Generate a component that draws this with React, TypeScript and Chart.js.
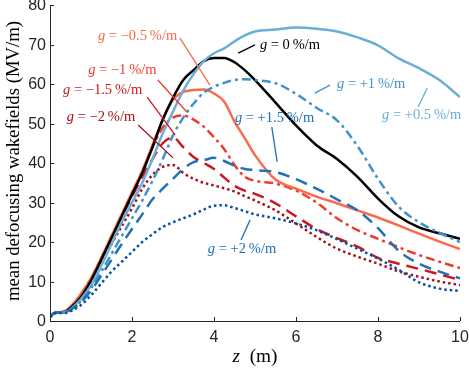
import React, { useEffect, useRef } from "react";
import { Chart, registerables } from "chart.js";

Chart.register(...registerables);

// propagation distance z (m)
const Z_M = [0, 0.1, 0.35, 0.5, 0.75, 1, 1.25, 1.5, 1.75, 2, 2.25, 2.5, 2.75, 3, 3.25, 3.5, 3.75, 4, 4.25, 4.5, 4.75, 5, 5.5, 6, 6.5, 7, 7.5, 8, 8.5, 9, 9.5, 10];

// mean defocusing wakefields (MV/m) for each gradient g
const W_0 = [1, 2, 2.3, 3.3, 6, 10.2, 15.5, 21, 26.5, 32, 37.5, 44, 51, 56.5, 61, 63.5, 65.8, 66.6, 66.6, 65.5, 63.5, 61, 55.3, 49.5, 44.5, 41, 36.5, 31, 26.5, 23.7, 22.2, 20.8];
const W_P05 = [1, 2, 2.2, 3, 5.5, 9, 14, 19.5, 25, 30, 35, 41, 47.5, 53, 58.3, 62.5, 65.8, 67.8, 69, 70.8, 72.3, 73.3, 73.8, 74.3, 74, 73.3, 71.8, 69.8, 66.5, 64, 61, 56.7];
const W_P1 = [1, 2, 2.2, 2.9, 5, 8.3, 12.5, 17, 21.5, 26, 30.5, 35.5, 41, 47, 51.5, 55, 57.8, 59.3, 60.3, 61, 61.2, 61, 60.2, 57.5, 54, 50.8, 44.3, 36, 29, 25, 22.3, 20];
const W_P15 = [1, 2, 2.2, 2.8, 4.7, 7.7, 11.5, 15.5, 19.5, 23.3, 27, 30.8, 33.5, 36, 38.5, 40.2, 40.7, 41.3, 40.5, 39.3, 38.5, 38.2, 37.7, 35.9, 33.5, 30.8, 28, 23.5, 17.8, 14.5, 12.5, 10.8];
const W_P2 = [1, 2, 2, 2.5, 4, 6.5, 9.5, 12.5, 15, 17.5, 20, 22, 23.8, 25, 26, 27, 28.2, 29.2, 29.3, 28.6, 27.8, 27, 26, 24.7, 23, 20.7, 18.3, 15.8, 13, 9.8, 8.2, 7.6];
const W_M05 = [1, 2, 2.4, 3.6, 6.8, 10.8, 16, 21.5, 27, 32.5, 38, 44.5, 51, 56, 58, 58.5, 58.6, 57.6, 55.5, 50.5, 46.3, 42, 35.8, 33.5, 31.5, 29.8, 28, 26.2, 24.2, 22.1, 20.1, 18.2];
const W_M1 = [1, 2, 2.4, 3.6, 6.8, 10.8, 16, 21.5, 27, 32.5, 38, 44, 49, 51.5, 52, 51, 49.2, 46.5, 43.5, 39.5, 36.5, 35.5, 34.8, 33, 30, 26, 23, 20.8, 18.7, 16.7, 15, 13.4];
const W_M15 = [1, 2, 2.4, 3.5, 6.5, 10.5, 15.5, 21, 26.5, 31.5, 36.5, 41, 45, 46.5, 44, 41.5, 40, 38.5, 36.3, 34.2, 33, 32.2, 29.8, 26.5, 23.3, 21, 18.8, 16, 14.5, 13.2, 11.8, 10.4];
const W_M2 = [1, 2, 2.3, 3.3, 6, 9.8, 14.5, 19.5, 24, 28.5, 33.5, 37, 39, 39.5, 37.5, 36, 35, 34.3, 33.6, 32.8, 31.6, 30.5, 28, 24.7, 21.3, 18.3, 16.3, 14.5, 12.6, 11.2, 10, 9.1];

const X_TICKS = [0, 2, 4, 6, 8, 10];
const Y_TICKS = [0, 10, 20, 30, 40, 50, 60, 70, 80];

const DOT = [2.5, 3];
const DASH = [12, 7];
const DASHDOT = [9, 4, 3, 4];

// listed top-most first
const SERIES = [
  { g: "+2", data: W_P2, color: "#08519c", dash: DOT },
  { g: "+1.5", data: W_P15, color: "#2171b5", dash: DASH },
  { g: "+1", data: W_P1, color: "#4292c6", dash: DASHDOT },
  { g: "+0.5", data: W_P05, color: "#6baed6", dash: [] as number[] },
  { g: "0", data: W_0, color: "#000000", dash: [] as number[] },
  { g: "-0.5", data: W_M05, color: "#fb6a4a", dash: [] as number[] },
  { g: "-1", data: W_M1, color: "#ef3b2c", dash: DASHDOT },
  { g: "-1.5", data: W_M15, color: "#cb181d", dash: DASH },
  { g: "-2", data: W_M2, color: "#a50f15", dash: DOT },
];

// text labels (data coordinates) with pointer lines
const LABELS = [
  { t: " = \u22120.5\u2009%/m", c: "#fb6a4a", tz: 1.17, tv: 72.2, z1: 3.17, v1: 71.6, z2: 3.9, v2: 59.7 },
  { t: " = \u22121\u2009%/m", c: "#ef3b2c", tz: 0.93, tv: 63.5, z1: 2.63, v1: 61, z2: 3.34, v2: 52.9 },
  { t: " = \u22121.5\u2009%/m", c: "#cb181d", tz: 0.32, tv: 58.5, z1: 2.37, v1: 56.7, z2: 3.05, v2: 47.1 },
  { t: " = \u22122\u2009%/m", c: "#a50f15", tz: 0.41, tv: 51.6, z1: 2.15, v1: 49.6, z2: 3.0, v2: 41.3 },
  { t: " = 0\u2009%/m", c: "#000000", tz: 5.12, tv: 69.9, z1: 4.59, v1: 67.8, z2: 5.0, v2: 69.9 },
  { t: " = +1\u2009%/m", c: "#4292c6", tz: 7.0, tv: 60, z1: 6.46, v1: 57.7, z2: 6.83, v2: 59.7 },
  { t: " = +1.5\u2009%/m", c: "#2171b5", tz: 4.51, tv: 51.4, z1: 5.41, v1: 49.1, z2: 5.54, v2: 40.3 },
  { t: " = +0.5\u2009%/m", c: "#6baed6", tz: 8.1, tv: 52.2, z1: 9.2, v1: 59, z2: 8.98, v2: 54.2 },
  { t: " = +2\u2009%/m", c: "#2171b5", tz: 3.85, tv: 18.2, z1: 4.88, v1: 25.6, z2: 4.66, v2: 20.5 },
];

const SERIF = '"Liberation Serif", "Times New Roman", serif';
const SANS = '"Liberation Sans", Arial, sans-serif';
const AXIS = "#262626";

export default function App() {
  const ref = useRef<HTMLCanvasElement>(null);

  useEffect(() => {
    const canvas = ref.current;
    if (!canvas) return;

    const deco = {
      id: "deco",
      afterDatasetsDraw(chart: any) {
        const ctx = chart.ctx as CanvasRenderingContext2D;
        const xs = chart.scales.x;
        const ys = chart.scales.y;
        const { left, right, top, bottom } = chart.chartArea;
        ctx.save();
        // axes
        ctx.strokeStyle = AXIS;
        ctx.lineWidth = 1;
        ctx.setLineDash([]);
        ctx.beginPath();
        ctx.moveTo(left + 0.5, top);
        ctx.lineTo(left + 0.5, bottom + 0.5);
        ctx.lineTo(right, bottom + 0.5);
        ctx.stroke();
        ctx.beginPath();
        for (const v of X_TICKS) {
          const px = Math.round(xs.getPixelForValue(v)) + 0.5;
          ctx.moveTo(px, bottom);
          ctx.lineTo(px, bottom - 4);
        }
        for (const v of Y_TICKS) {
          const py = Math.round(ys.getPixelForValue(v)) + 0.5;
          ctx.moveTo(left, py);
          ctx.lineTo(left + 4, py);
        }
        ctx.stroke();

        // tick labels
        ctx.fillStyle = AXIS;
        ctx.font = `16px ${SANS}`;
        ctx.textBaseline = "middle";
        ctx.textAlign = "right";
        for (const v of Y_TICKS) {
          ctx.fillText(String(v), left - 4, ys.getPixelForValue(v) + 1);
        }
        ctx.textAlign = "center";
        for (const v of X_TICKS) {
          ctx.fillText(String(v), xs.getPixelForValue(v), bottom + 17);
        }

        // labels
        const size = 14.5;
        ctx.textBaseline = "middle";
        ctx.textAlign = "left";
        for (const L of LABELS) {
          ctx.strokeStyle = L.c;
          ctx.lineWidth = 1.3;
          ctx.beginPath();
          ctx.moveTo(xs.getPixelForValue(L.z1), ys.getPixelForValue(L.v1));
          ctx.lineTo(xs.getPixelForValue(L.z2), ys.getPixelForValue(L.v2));
          ctx.stroke();
          const tx = xs.getPixelForValue(L.tz);
          const ty = ys.getPixelForValue(L.tv);
          ctx.fillStyle = L.c;
          ctx.font = `italic ${size}px ${SERIF}`;
          const gw = ctx.measureText("g").width;
          ctx.fillText("g", tx, ty);
          ctx.font = `${size}px ${SERIF}`;
          ctx.fillText(L.t, tx + gw, ty);
        }

        // x title
        ctx.fillStyle = "#000";
        ctx.font = `italic 18px ${SERIF}`;
        const zw = ctx.measureText("z").width;
        ctx.font = `18px ${SERIF}`;
        const rest = "\u2002(m)";
        const rw = ctx.measureText(rest).width;
        const cx = (left + right) / 2;
        const tot = zw + rw;
        ctx.save();
        ctx.translate(cx, 357);
        ctx.scale(45 / tot, 1);
        ctx.font = `italic 18px ${SERIF}`;
        ctx.fillText("z", -tot / 2, 0);
        ctx.font = `18px ${SERIF}`;
        ctx.fillText(rest, -tot / 2 + zw, 0);
        ctx.restore();

        // y title
        const yt = "mean defocusing wakefields (MV/m)";
        ctx.font = `18px ${SERIF}`;
        const w = ctx.measureText(yt).width;
        ctx.translate(14, (top + bottom) / 2 - 2);
        ctx.rotate(-Math.PI / 2);
        ctx.scale(280 / w, 1);
        ctx.textAlign = "center";
        ctx.fillText(yt, 0, 0);
        ctx.restore();
      },
    };

    const chart = new Chart(canvas, {
      type: "line",
      data: {
        datasets: SERIES.map((s) => ({
          label: `g = ${s.g} %/m`,
          data: Z_M.map((z, i) => ({ x: z, y: s.data[i] })),
          borderColor: s.color,
          backgroundColor: s.color,
          borderWidth: 2.5,
          borderDash: s.dash,
          pointRadius: 0,
          fill: false,
          cubicInterpolationMode: "monotone" as const,
        })),
      },
      options: {
        animation: false,
        responsive: true,
        maintainAspectRatio: false,
        layout: { autoPadding: false, padding: { top: 5, right: 9, left: 0, bottom: 0 } },
        plugins: { legend: { display: false }, tooltip: { enabled: false } },
        scales: {
          x: {
            type: "linear",
            min: 0,
            max: 10,
            afterFit: (s: any) => { s.height = 49; },
            grid: { display: false, drawTicks: false },
            border: { display: false },
            ticks: { display: false },
          },
          y: {
            type: "linear",
            min: 0,
            max: 80,
            afterFit: (s: any) => { s.width = 50; },
            grid: { display: false, drawTicks: false },
            border: { display: false },
            ticks: { display: false },
          },
        },
      },
      plugins: [deco],
    });
    return () => chart.destroy();
  }, []);

  return (
    <div style={{ position: "fixed", left: 0, top: 0, width: 469, height: 370, background: "#fff" }}>
      <canvas ref={ref} />
    </div>
  );
}
